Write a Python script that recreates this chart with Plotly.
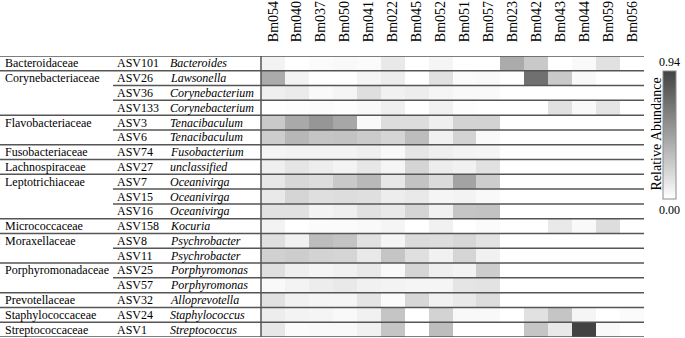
import plotly.graph_objects as go

samples = ["Bm054", "Bm040", "Bm037", "Bm050", "Bm041", "Bm022", "Bm045", "Bm052",
           "Bm051", "Bm057", "Bm023", "Bm042", "Bm043", "Bm044", "Bm059", "Bm056"]

family = ["Bacteroidaceae", "Corynebacteriaceae", "", "", "Flavobacteriaceae", "",
          "Fusobacteriaceae", "Lachnospiraceae", "Leptotrichiaceae", "", "",
          "Micrococcaceae", "Moraxellaceae", "", "Porphyromonadaceae", "",
          "Prevotellaceae", "Staphylococcaceae", "Streptococcaceae"]

asv = ["ASV101", "ASV26", "ASV36", "ASV133", "ASV3", "ASV6", "ASV74", "ASV27", "ASV7",
       "ASV15", "ASV16", "ASV158", "ASV8", "ASV11", "ASV25", "ASV57", "ASV32", "ASV24", "ASV1"]

genus = ["Bacteroides", "Lawsonella", "Corynebacterium", "Corynebacterium", "Tenacibaculum",
         "Tenacibaculum", "Fusobacterium", "unclassified", "Oceanivirga", "Oceanivirga",
         "Oceanivirga", "Kocuria", "Psychrobacter", "Psychrobacter", "Porphyromonas",
         "Porphyromonas", "Alloprevotella", "Staphylococcus", "Streptococcus"]

abundance = [
    [0.06, 0.00, 0.02, 0.03, 0.02, 0.11, 0.00, 0.05, 0.00, 0.00, 0.42, 0.27, 0.00, 0.03, 0.15, 0.00],
    [0.42, 0.06, 0.00, 0.00, 0.05, 0.09, 0.00, 0.15, 0.02, 0.03, 0.00, 0.71, 0.27, 0.03, 0.00, 0.00],
    [0.08, 0.10, 0.03, 0.05, 0.16, 0.07, 0.09, 0.05, 0.03, 0.03, 0.00, 0.00, 0.00, 0.00, 0.00, 0.00],
    [0.00, 0.01, 0.02, 0.01, 0.03, 0.08, 0.00, 0.07, 0.01, 0.00, 0.00, 0.00, 0.15, 0.03, 0.13, 0.00],
    [0.27, 0.43, 0.52, 0.44, 0.03, 0.17, 0.17, 0.08, 0.22, 0.22, 0.00, 0.00, 0.00, 0.00, 0.00, 0.00],
    [0.25, 0.36, 0.29, 0.30, 0.26, 0.21, 0.33, 0.07, 0.22, 0.03, 0.00, 0.00, 0.00, 0.00, 0.00, 0.00],
    [0.05, 0.06, 0.06, 0.06, 0.08, 0.03, 0.13, 0.08, 0.06, 0.05, 0.00, 0.00, 0.00, 0.00, 0.00, 0.00],
    [0.08, 0.13, 0.09, 0.06, 0.12, 0.05, 0.21, 0.09, 0.07, 0.15, 0.00, 0.00, 0.00, 0.00, 0.00, 0.00],
    [0.12, 0.20, 0.17, 0.27, 0.35, 0.12, 0.30, 0.18, 0.46, 0.25, 0.00, 0.00, 0.00, 0.00, 0.00, 0.00],
    [0.11, 0.21, 0.16, 0.17, 0.16, 0.09, 0.11, 0.05, 0.06, 0.03, 0.00, 0.00, 0.00, 0.00, 0.00, 0.00],
    [0.15, 0.15, 0.06, 0.08, 0.15, 0.11, 0.21, 0.07, 0.29, 0.30, 0.00, 0.00, 0.00, 0.00, 0.00, 0.00],
    [0.06, 0.00, 0.02, 0.02, 0.03, 0.05, 0.00, 0.07, 0.00, 0.02, 0.00, 0.00, 0.11, 0.03, 0.17, 0.00],
    [0.16, 0.07, 0.33, 0.30, 0.15, 0.05, 0.18, 0.17, 0.20, 0.14, 0.00, 0.00, 0.00, 0.00, 0.00, 0.00],
    [0.23, 0.25, 0.22, 0.21, 0.11, 0.29, 0.16, 0.07, 0.21, 0.07, 0.00, 0.00, 0.00, 0.00, 0.00, 0.00],
    [0.16, 0.08, 0.05, 0.07, 0.11, 0.03, 0.21, 0.08, 0.06, 0.25, 0.00, 0.00, 0.00, 0.00, 0.00, 0.00],
    [0.03, 0.06, 0.09, 0.11, 0.07, 0.06, 0.05, 0.05, 0.13, 0.14, 0.00, 0.00, 0.00, 0.00, 0.00, 0.00],
    [0.15, 0.07, 0.05, 0.05, 0.13, 0.02, 0.20, 0.07, 0.11, 0.17, 0.00, 0.00, 0.00, 0.00, 0.00, 0.00],
    [0.09, 0.06, 0.05, 0.03, 0.07, 0.29, 0.00, 0.22, 0.03, 0.03, 0.00, 0.15, 0.29, 0.05, 0.00, 0.02],
    [0.12, 0.02, 0.03, 0.03, 0.07, 0.29, 0.00, 0.33, 0.00, 0.00, 0.00, 0.29, 0.11, 0.94, 0.03, 0.00],
]

zmax = 0.94
W, H = 685, 338
L, R, T, B = 261, 644, 56, 337
SERIF = "Liberation Serif"
LINE = "#555555"
FS = 12


def px(p):
    return (p - L) / (R - L)


def py(p):
    return 1 - (p - T) / (B - T)


fig = go.Figure(go.Heatmap(
    z=abundance,
    x=list(range(len(samples))),
    y=list(range(len(asv))),
    zmin=0, zmax=zmax,
    colorscale=[[0, "#ffffff"], [1, "#424242"]],
    showscale=True,
    colorbar=dict(
        xref="paper", yref="paper",
        x=px(663), xanchor="left",
        y=py(70.7), yanchor="top",
        lenmode="pixels", len=127.5,
        thicknessmode="pixels", thickness=13,
        outlinecolor="#8c8c8c", outlinewidth=1,
        showticklabels=False, ticks="",
        xpad=0, ypad=0,
    ),
    hoverongaps=False,
))

shapes = []
n = len(asv)
for k in range(n + 1):
    starts_family = (k == 0 or k == n or family[k] != "")
    x0 = px(0) if starts_family else px(113)
    shapes.append(dict(type="line", xref="paper", yref="y", x0=x0, x1=1,
                       y0=k - 0.5, y1=k - 0.5, line=dict(color=LINE, width=1.5)))
shapes.append(dict(type="line", xref="paper", yref="y", x0=0, x1=0,
                   y0=-0.5, y1=n - 0.5, line=dict(color=LINE, width=1.5)))

annotations = []
for txt, xp in (("Family", 3), ("ASV", 115), ("Genus", 168)):
    annotations.append(dict(text=f"<b>{txt}</b>", xref="paper", yref="y", x=px(xp), y=-1.12,
                            xanchor="left", yanchor="middle", showarrow=False,
                            font=dict(family=SERIF, size=FS, color="black")))
for i in range(n):
    if family[i]:
        annotations.append(dict(text=family[i], xref="paper", yref="y", x=px(3), y=i,
                                xanchor="left", yanchor="middle", showarrow=False,
                                font=dict(family=SERIF, size=FS, color="black")))
    annotations.append(dict(text=asv[i], xref="paper", yref="y", x=px(115), y=i,
                            xanchor="left", yanchor="middle", showarrow=False,
                            font=dict(family=SERIF, size=FS, color="black")))
    annotations.append(dict(text=f"<i>{genus[i]}</i>", xref="paper", yref="y", x=px(168), y=i,
                            xanchor="left", yanchor="middle", showarrow=False,
                            font=dict(family=SERIF, size=FS, color="black")))

annotations.append(dict(text=f"{zmax:.2f}", xref="paper", yref="paper", x=px(669.5), y=py(62.5),
                        xanchor="center", yanchor="middle", showarrow=False,
                        font=dict(family=SERIF, size=FS, color="black")))
annotations.append(dict(text="0.00", xref="paper", yref="paper", x=px(669.5), y=py(210),
                        xanchor="center", yanchor="middle", showarrow=False,
                        font=dict(family=SERIF, size=FS, color="black")))
annotations.append(dict(text="Relative Abundance", xref="paper", yref="paper", x=px(656),
                        y=py(134.5), textangle=-90,
                        xanchor="center", yanchor="middle", showarrow=False,
                        font=dict(family=SERIF, size=14, color="black")))

fig.update_layout(
    width=W, height=H,
    margin=dict(l=L, r=W - R, t=T, b=H - B, autoexpand=False),
    paper_bgcolor="white", plot_bgcolor="white",
    shapes=shapes, annotations=annotations,
    xaxis=dict(side="top", tickmode="array", tickvals=list(range(len(samples))), ticktext=samples,
               tickangle=-90, tickfont=dict(family=SERIF, size=14, color="black"),
               ticks="outside", ticklen=10, tickcolor="rgba(0,0,0,0)", automargin=False,
               showgrid=False, zeroline=False, showline=False, range=[-0.5, len(samples) - 0.5]),
    yaxis=dict(showticklabels=False, ticks="", showgrid=False, zeroline=False, showline=False,
               automargin=False, range=[n - 0.5, -0.5]),
    showlegend=False,
)

fig.write_html("out.html", config={"displayModeBar": False},
               post_script="document.body.style.margin='0';document.body.style.overflow='hidden';")
